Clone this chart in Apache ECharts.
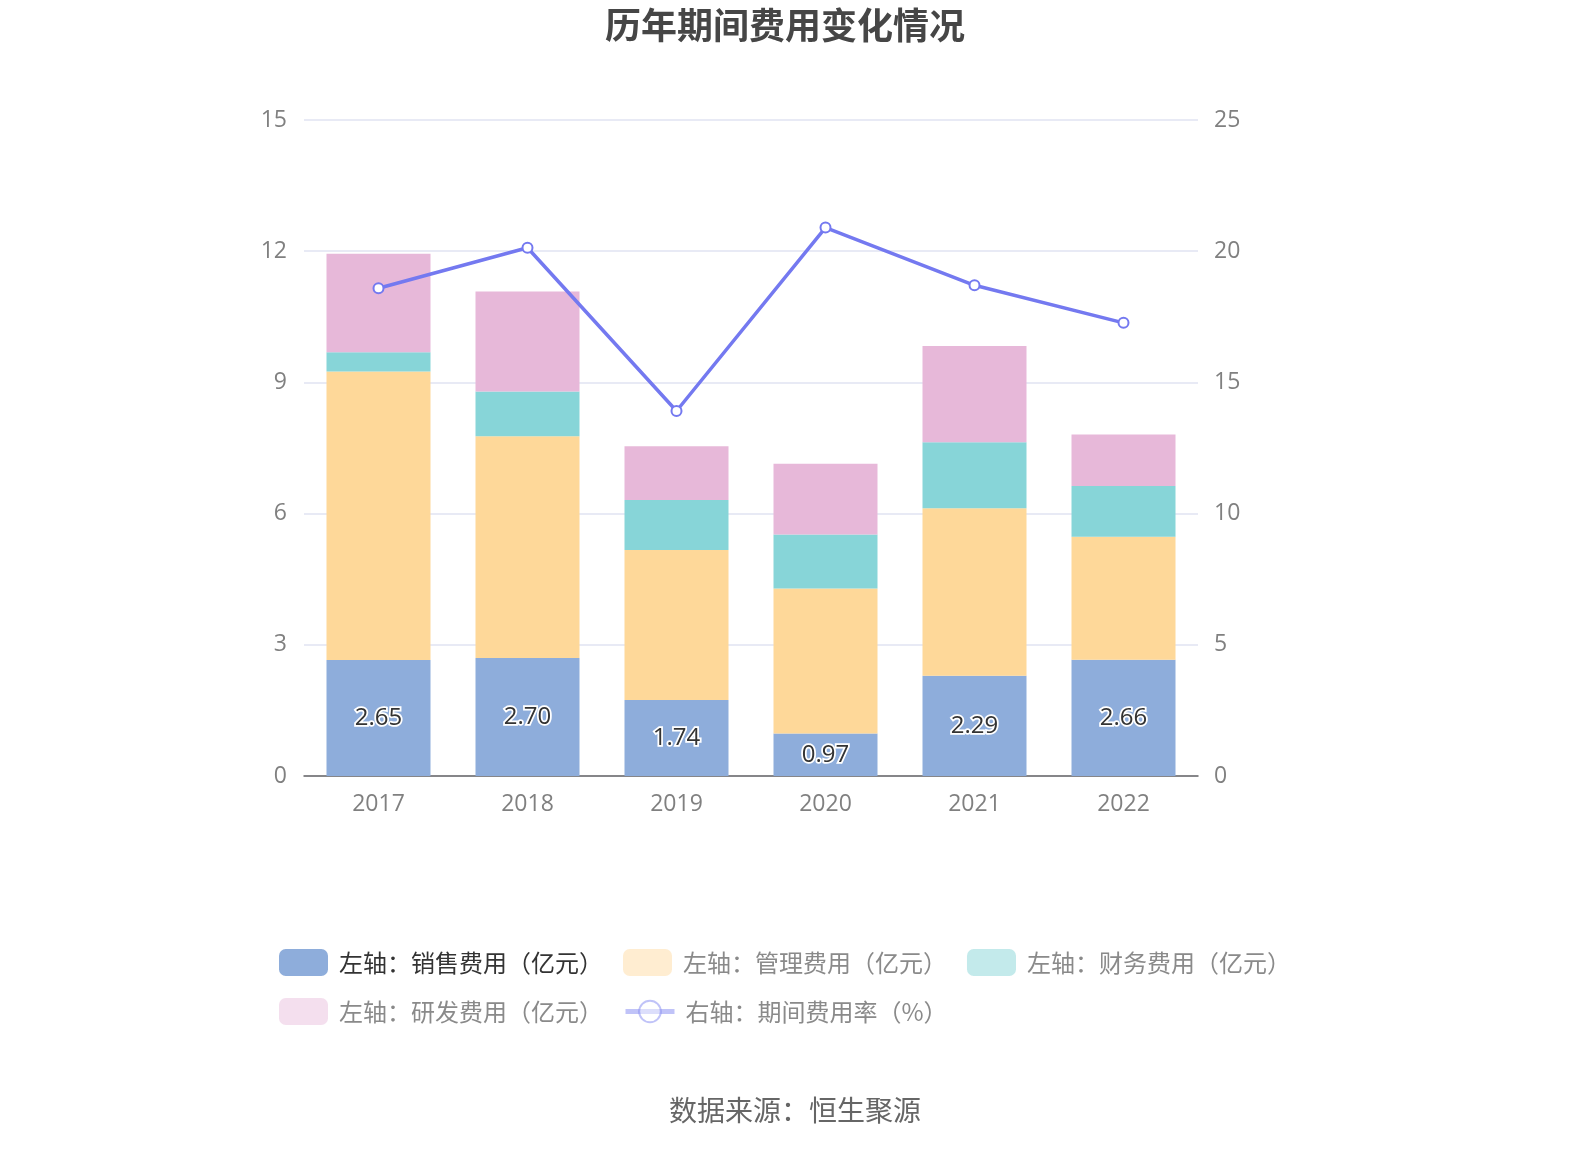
<!DOCTYPE html>
<html>
<head>
<meta charset="utf-8">
<script src="https://cdn.jsdelivr.net/npm/echarts@6/dist/echarts.min.js"></script>
<style>html,body{margin:0;padding:0;background:#fff;}#main{width:1590px;height:1150px;}</style>
</head>
<body>
<div id="main"></div>
<script>
const categories = ['2017', '2018', '2019', '2020', '2021', '2022'];
const salesExp = [2.65, 2.70, 1.74, 0.97, 2.29, 2.66];
const mgmtExp = [6.60, 5.07, 3.43, 3.32, 3.83, 2.81];
const finExp = [0.44, 1.02, 1.14, 1.23, 1.51, 1.16];
const rdExp = [2.25, 2.29, 1.23, 1.62, 2.20, 1.18];
const expRate = [18.59, 20.13, 13.91, 20.90, 18.70, 17.27];
const leftTicks = { min: 0, max: 15, interval: 3 };
const rightTicks = { min: 0, max: 25, interval: 5 };
const names = ['左轴：销售费用（亿元）', '左轴：管理费用（亿元）', '左轴：财务费用（亿元）', '左轴：研发费用（亿元）', '右轴：期间费用率（%）'];

const FONT = 'Noto Sans CJK SC';
const NUMFONT = '"Open Sans", "Noto Sans CJK SC"';
const colors = ['#8EADDB', '#FED899', '#87D5D8', '#E7B8D9', '#7479F0'];
const chart = echarts.init(document.getElementById('main'));
const barW = 104;
const legendCommon = {
  left: 274, itemWidth: 49, itemHeight: 27, itemGap: 20,
  textStyle: { fontSize: 24, color: '#8a8a8a', fontFamily: FONT, padding: [0, 0, 0, 6] }
};
chart.setOption({
  animation: false,
  textStyle: { fontFamily: FONT },
  title: [{
    text: '历年期间费用变化情况',
    left: 600, top: 2,
    textStyle: { fontSize: 36, fontWeight: 'bold', color: '#464646', fontFamily: FONT }
  }, {
    text: '数据来源：恒生聚源',
    left: 'center', top: 1091,
    textStyle: { fontSize: 28, fontWeight: 'normal', color: '#666', fontFamily: FONT }
  }],
  legend: [Object.assign({}, legendCommon, {
    top: 944,
    data: [
      { name: names[0], textStyle: { color: '#333' } },
      { name: names[1], itemStyle: { opacity: 0.45 } },
      { name: names[2], itemStyle: { opacity: 0.5 } }
    ]
  }), Object.assign({}, legendCommon, {
    top: 993,
    data: [
      { name: names[3], itemStyle: { opacity: 0.45 } },
      { name: names[4], itemStyle: { opacity: 0.45 }, lineStyle: { opacity: 0.45, width: 5 } }
    ]
  })],
  grid: { left: 304, right: 392, top: 120, bottom: 374 },
  xAxis: {
    type: 'category', data: categories,
    axisLine: { lineStyle: { color: '#666', width: 1.5 } },
    axisTick: { alignWithLabel: true, length: 6, lineStyle: { color: '#666' } },
    axisLabel: { fontSize: 23, color: '#808080', margin: 17, fontFamily: NUMFONT }
  },
  yAxis: [{
    type: 'value', min: leftTicks.min, max: leftTicks.max, interval: leftTicks.interval,
    axisLine: { show: false }, axisTick: { show: false },
    axisLabel: { fontSize: 23, color: '#808080', margin: 17, fontFamily: NUMFONT },
    splitLine: { lineStyle: { color: '#E1E3F2', width: 1.5 } }
  }, {
    type: 'value', min: rightTicks.min, max: rightTicks.max, interval: rightTicks.interval,
    axisLine: { show: false }, axisTick: { show: false },
    axisLabel: { fontSize: 23, color: '#808080', margin: 16, fontFamily: NUMFONT },
    splitLine: { show: false }
  }],
  series: [{
    name: names[0], type: 'bar', stack: 'a', data: salesExp, barWidth: barW,
    itemStyle: { color: colors[0] },
    label: {
      show: true, position: 'inside', fontSize: 24, color: '#333', fontFamily: NUMFONT,
      textBorderColor: '#fff', textBorderWidth: 3.5,
      formatter: p => p.value.toFixed(2)
    }
  }, {
    name: names[1], type: 'bar', stack: 'a', data: mgmtExp, barWidth: barW,
    itemStyle: { color: colors[1] }
  }, {
    name: names[2], type: 'bar', stack: 'a', data: finExp, barWidth: barW,
    itemStyle: { color: colors[2] }
  }, {
    name: names[3], type: 'bar', stack: 'a', data: rdExp, barWidth: barW,
    itemStyle: { color: colors[3] }
  }, {
    name: names[4], type: 'line', yAxisIndex: 1, data: expRate,
    symbol: 'emptyCircle', symbolSize: 10,
    lineStyle: { color: colors[4], width: 3.5 },
    itemStyle: { color: colors[4], borderWidth: 2.5 }
  }]
});
</script>
</body>
</html>
